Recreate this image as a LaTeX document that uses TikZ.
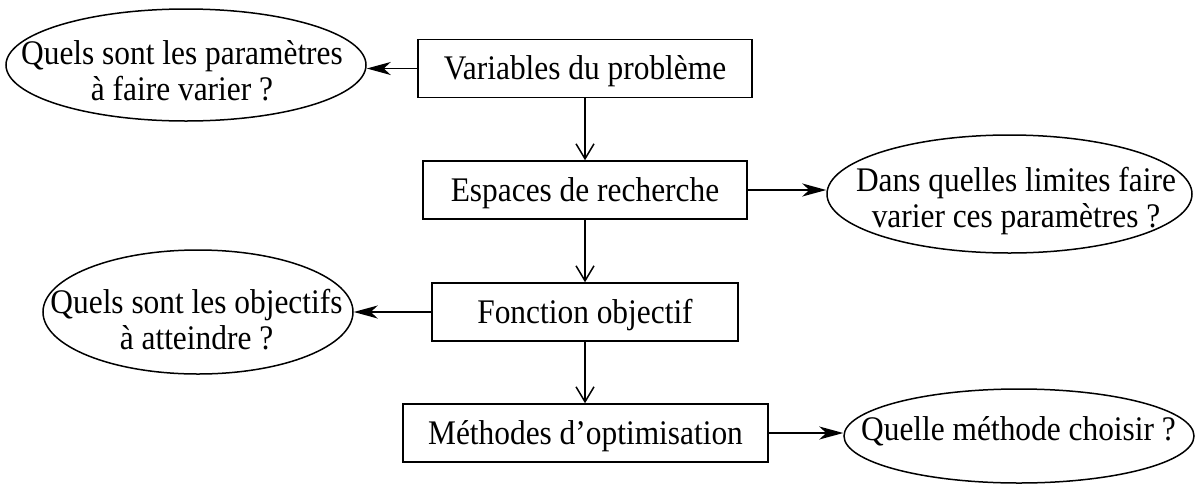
\documentclass[tikz,border=0pt]{standalone}
\usepackage{fontspec}
\setmainfont{Liberation Serif}[FakeStretch=0.91]
\usetikzlibrary{shapes.geometric,arrows.meta}
\tikzset{
  boxnode/.style={draw, line width=1.5pt, minimum height=58pt, inner sep=0pt, text height=22.5pt, text depth=0pt},
  ellnode/.style={draw, ellipse, line width=1.5pt, inner sep=0pt},
  elltext/.style={align=center, inner sep=0pt},
  harrow/.style={line width=1.5pt, -{Stealth[length=24pt,width=13pt,inset=7pt]}},
  varrow/.style={line width=1.5pt, -{Straight Barb[length=15pt,width=18pt,line width=1.5pt]}},
}
\begin{document}
\begin{tikzpicture}[x=1pt, y=-1pt, font=\fontsize{34.5}{36}\selectfont]
\useasboundingbox (0,0) rectangle (1197,483);
% boxes
\node[boxnode, minimum width=334pt] (v) at (585,68.5) {Variables du problème};
\node[boxnode, minimum width=324pt] (s) at (585,190) {Espaces de recherche};
\node[boxnode, minimum width=306pt] (f) at (585,312) {Fonction objectif};
\node[boxnode, minimum width=365pt] (m) at (585.5,433) {Méthodes d’optimisation};
% ellipses
\node[ellnode, minimum width=360pt, minimum height=112pt] (e1) at (186,65) {};
\node[elltext, anchor=north] (e1t) at (182,40) {Quels sont les paramètres\\à faire varier ?};
\node[ellnode, minimum width=365pt, minimum height=118pt] (e2) at (1009.5,194) {};
\node[elltext, anchor=north] (e2t) at (1016,167) {Dans quelles limites faire\\varier ces paramètres ?};
\node[ellnode, minimum width=310pt, minimum height=124pt] (e3) at (198,312) {};
\node[elltext, anchor=north] (e3t) at (196.5,289) {Quels sont les objectifs\\à atteindre ?};
\node[ellnode, minimum width=350pt, minimum height=94pt] (e4) at (1019,436) {};
\node[elltext, anchor=base] (e4t) at (1018.5,440) {Quelle méthode choisir ?};
% vertical arrows
\draw[varrow] (v.south) -- (s.north);
\draw[varrow] (s.south) -- (f.north);
\draw[varrow] (f.south) -- (f.south |- m.north);
% horizontal arrows
\draw[harrow] (v.west) -- (v.west -| e1.east);
\draw[harrow] (s.east) -- (s.east -| e2.west);
\draw[harrow] (f.west) -- (f.west -| e3.east);
\draw[harrow] (m.east) -- (m.east -| e4.west);
\end{tikzpicture}
\end{document}
